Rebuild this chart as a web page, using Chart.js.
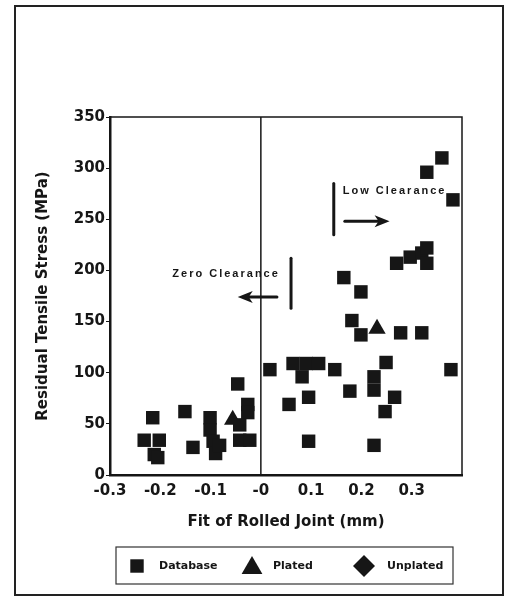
<!DOCTYPE html>
<html>
<head>
<meta charset="utf-8">
<script src="https://cdn.jsdelivr.net/npm/chart.js@4.4.1/dist/chart.umd.min.js"></script>
<style>
  body { margin: 0; background: #fff; }
  canvas { display: block; }
</style>
</head>
<body>
<canvas id="chart" width="509" height="603"></canvas>
<script>
// series names (legend)
const seriesNames = ['Database', 'Plated', 'Unplated'];

// Database points: fit (mm) / residual stress (MPa)
const databaseX = [-0.215, -0.232, -0.202, -0.212, -0.205, -0.151, -0.101, -0.101, -0.135, -0.095,
  -0.090, -0.082, -0.046, -0.026, -0.026, -0.042, -0.042, -0.022,
  0.018, 0.064, 0.090, 0.115, 0.082, 0.147, 0.095, 0.056, 0.095, 0.177, 0.181, 0.199,
  0.165, 0.199, 0.225, 0.225, 0.225, 0.278, 0.320, 0.249, 0.378, 0.266, 0.247,
  0.360, 0.330, 0.382, 0.270, 0.297, 0.320, 0.330, 0.330];
const databaseY = [56, 34, 34, 20, 17, 62, 56, 44, 27, 33,
  21, 29, 89, 69, 61, 49, 34, 34,
  103, 109, 109, 109, 96, 103, 76, 69, 33, 82, 151, 137,
  193, 179, 96, 83, 29, 139, 139, 110, 103, 76, 62,
  310, 296, 269, 207, 213, 217, 222, 207];

// Plated points
const platedX = [-0.056, 0.231];
const platedY = [54, 143];

// Unplated points (none visible in the plot)
const unplatedX = [];
const unplatedY = [];

// tick labels
const xTickValues = [-0.3, -0.2, -0.1, 0, 0.1, 0.2, 0.3];
const xTickLabels = ['-0.3', '-0.2', '-0.1', '-0', '0.1', '0.2', '0.3'];
const yTickLabels = ['0', '50', '100', '150', '200', '250', '300', '350'];

const toPoints = (xs, ys) => xs.map((v, i) => ({x: v, y: ys[i]}));
const ink = '#161616';
const tickFont = {family: 'DejaVu Sans', weight: 'bold', size: 15};

function arrow(ctx, x1, x2, y) {
  const dir = x2 > x1 ? 1 : -1;
  ctx.lineWidth = 3;
  ctx.beginPath();
  ctx.moveTo(x1, y);
  ctx.lineTo(x2 - dir * 10, y);
  ctx.stroke();
  ctx.beginPath();
  ctx.moveTo(x2, y);
  ctx.lineTo(x2 - dir * 15, y - 6);
  ctx.lineTo(x2 - dir * 11, y);
  ctx.lineTo(x2 - dir * 15, y + 6);
  ctx.closePath();
  ctx.fill();
}

const decor = {
  id: 'decor',
  beforeDraw(chart) {
    const ctx = chart.ctx;
    ctx.save();
    ctx.strokeStyle = '#222';
    ctx.lineWidth = 2;
    ctx.strokeRect(15, 6, 488, 589);
    ctx.restore();
  },
  beforeDatasetsDraw(chart) {
    const {ctx, chartArea: a, scales: {x}} = chart;
    ctx.save();
    ctx.strokeStyle = ink;
    ctx.lineWidth = 1.5;
    ctx.strokeRect(a.left, a.top, a.right - a.left, a.bottom - a.top);
    const x0 = x.getPixelForValue(0);
    ctx.beginPath();
    ctx.moveTo(x0, a.top);
    ctx.lineTo(x0, a.bottom);
    ctx.stroke();
    ctx.restore();
  },
  afterDatasetsDraw(chart) {
    const {ctx, scales: {x, y}} = chart;
    ctx.save();
    ctx.strokeStyle = ink;
    ctx.fillStyle = ink;
    ctx.lineCap = 'round';
    // low clearance
    ctx.lineWidth = 3;
    ctx.beginPath();
    ctx.moveTo(x.getPixelForValue(0.145), y.getPixelForValue(285));
    ctx.lineTo(x.getPixelForValue(0.145), y.getPixelForValue(235));
    ctx.stroke();
    arrow(ctx, x.getPixelForValue(0.167), x.getPixelForValue(0.256), y.getPixelForValue(248));
    // zero clearance
    ctx.lineWidth = 3;
    ctx.beginPath();
    ctx.moveTo(x.getPixelForValue(0.06), y.getPixelForValue(212));
    ctx.lineTo(x.getPixelForValue(0.06), y.getPixelForValue(163));
    ctx.stroke();
    arrow(ctx, x.getPixelForValue(0.032), x.getPixelForValue(-0.046), y.getPixelForValue(174));
    ctx.font = 'bold 11px "Liberation Sans"';
    ctx.letterSpacing = '2px';
    ctx.textBaseline = 'middle';
    ctx.fillText('Low Clearance', x.getPixelForValue(0.163), y.getPixelForValue(278));
    ctx.fillText('Zero Clearance', x.getPixelForValue(-0.176), y.getPixelForValue(197));
    ctx.restore();
  },
  afterDraw(chart) {
    // boxed legend under the axis title
    const ctx = chart.ctx;
    const cy = 566;
    const items = [
      {style: 'rect', radius: 9.5, mark: 137, text: 159},
      {style: 'triangle', radius: 12, mark: 252, text: 273},
      {style: 'rectRot', radius: 11, mark: 364, text: 387}
    ];
    ctx.save();
    ctx.strokeStyle = '#333';
    ctx.lineWidth = 1.2;
    ctx.strokeRect(116, 547, 337, 37);
    ctx.fillStyle = ink;
    ctx.strokeStyle = ink;
    ctx.font = 'bold 11px "DejaVu Sans"';
    ctx.textBaseline = 'middle';
    items.forEach((it, i) => {
      Chart.helpers.drawPoint(ctx, {pointStyle: it.style, radius: it.radius, borderWidth: 0, rotation: 0},
        it.mark, it.style === 'triangle' ? cy + 2 : cy);
      ctx.fillText(chart.data.datasets[i].label, it.text, cy);
    });
    ctx.restore();
  }
};

const config = {
  type: 'scatter',
  data: {
    datasets: [
      {
        label: seriesNames[0],
        data: toPoints(databaseX, databaseY),
        pointStyle: 'rect',
        pointRadius: 9.5,
        pointHoverRadius: 9.5,
        backgroundColor: ink,
        borderColor: ink,
        borderWidth: 0
      },
      {
        label: seriesNames[1],
        data: toPoints(platedX, platedY),
        pointStyle: 'triangle',
        pointRadius: 10,
        pointHoverRadius: 10,
        backgroundColor: ink,
        borderColor: ink,
        borderWidth: 0
      },
      {
        label: seriesNames[2],
        data: toPoints(unplatedX, unplatedY),
        pointStyle: 'rectRot',
        pointRadius: 9,
        backgroundColor: ink,
        borderColor: ink,
        borderWidth: 0
      }
    ]
  },
  options: {
    responsive: false,
    animation: false,
    layout: {
      padding: {top: 117, right: 47, left: 28, bottom: 72}
    },
    scales: {
      x: {
        type: 'linear',
        min: -0.3,
        max: 0.4,
        afterFit: s => { s.height = 56; },
        afterBuildTicks: s => { s.ticks = xTickValues.map(v => ({value: v})); },
        border: {color: ink, width: 2.5},
        grid: {display: true, drawOnChartArea: false, drawTicks: false},
        ticks: {
          color: ink,
          font: tickFont,
          padding: 7,
          maxRotation: 0,
          callback: (v, i) => xTickLabels[i]
        },
        title: {
          display: true,
          text: 'Fit of Rolled Joint (mm)',
          color: ink,
          font: {family: 'DejaVu Sans', weight: 'bold', size: 15},
          padding: {top: 0, bottom: 0}
        }
      },
      y: {
        min: 0,
        max: 350,
        afterFit: s => { s.width = 82; },
        border: {color: ink, width: 2.5},
        grid: {display: true, drawOnChartArea: false, drawTicks: true, tickLength: 4, color: ink},
        ticks: {
          stepSize: 50,
          color: ink,
          font: tickFont,
          padding: 1,
          callback: (v, i) => yTickLabels[i]
        },
        title: {
          display: true,
          text: 'Residual Tensile Stress (MPa)',
          color: ink,
          font: {family: 'DejaVu Sans', weight: 'bold', size: 15},
          padding: {top: 6, bottom: 0}
        }
      }
    },
    plugins: {
      legend: {display: false},
      title: {display: false},
      tooltip: {enabled: false}
    }
  },
  plugins: [decor]
};

var chart = new Chart(document.getElementById('chart').getContext('2d'), config);
</script>
</body>
</html>
